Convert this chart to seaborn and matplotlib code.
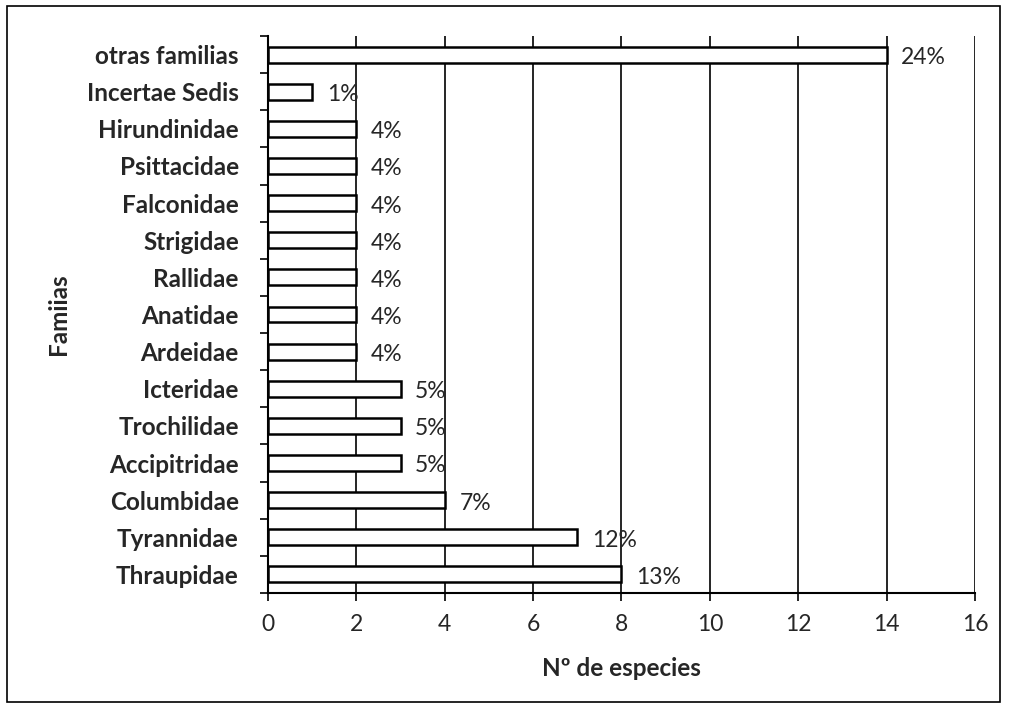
import matplotlib
matplotlib.use("Agg")
import matplotlib.pyplot as plt
import seaborn as sns
import pandas as pd
from matplotlib.patches import Rectangle

# datos (de arriba hacia abajo)
familias = ["otras familias", "Incertae Sedis", "Hirundinidae", "Psittacidae",
            "Falconidae", "Strigidae", "Rallidae", "Anatidae", "Ardeidae",
            "Icteridae", "Trochilidae", "Accipitridae", "Columbidae",
            "Tyrannidae", "Thraupidae"]
especies = [14, 1, 2, 2, 2, 2, 2, 2, 2, 3, 3, 3, 4, 7, 8]
porcentajes = ["24%", "1%", "4%", "4%", "4%", "4%", "4%", "4%", "4%",
               "5%", "5%", "5%", "7%", "12%", "13%"]
xticks = [0, 2, 4, 6, 8, 10, 12, 14, 16]

df = pd.DataFrame({"Familia": familias, "Especies": especies})

sns.set_style("white")
plt.rcParams["font.family"] = ["Lato", "DejaVu Sans"]

fig = plt.figure(figsize=(10.1, 7.1), dpi=100)
ax = fig.add_axes([0.2653, 0.1648, 0.7, 0.7845])

sns.barplot(data=df, y="Familia", x="Especies", orient="h", color="white",
            edgecolor="black", linewidth=1.8, width=0.43, ax=ax, zorder=3)

ax.set_xlim(0, 16)
ax.set_ylim(len(familias) - 0.5, -0.5)
ax.set_xticks(xticks)
ax.set_xticklabels([str(t) for t in xticks], fontsize=16.5)
ax.xaxis.grid(True, color="black", linewidth=1.2, zorder=0)
ax.set_axisbelow(True)

# etiquetas de categorias con marcas entre categorias
ax.set_yticks(range(len(familias)))
ax.set_yticklabels(familias, fontsize=17.5, fontweight="bold")
ax.set_yticks([i - 0.5 for i in range(len(familias) + 1)], minor=True)
ax.tick_params(axis="y", which="major", left=True, length=0, pad=21)
ax.tick_params(axis="y", which="minor", left=True, length=6, width=1.2,
               direction="out", color="black")
ax.tick_params(axis="x", which="major", bottom=True, length=6, width=1.2,
               direction="out", pad=9, color="black")

for s in ["top", "right"]:
    ax.spines[s].set_visible(False)
for s in ["left", "bottom"]:
    ax.spines[s].set_linewidth(1.5)
    ax.spines[s].set_color("black")

for i, (v, p) in enumerate(zip(especies, porcentajes)):
    ax.text(v + 0.33, i + 0.08, p, va="center", ha="left", fontsize=16.5)

ax.set_xlabel("Nº de especies", fontsize=17.5, fontweight="bold", labelpad=16)
ax.set_ylabel("Famiias", fontsize=17.5, fontweight="bold")
ax.yaxis.set_label_coords(-0.28, 0.5)

fig.patches.append(Rectangle((0.007, 0.0113), 0.983, 0.980, transform=fig.transFigure,
                             fill=False, edgecolor="black", linewidth=1.2))

fig.savefig("out.png", dpi=100)
